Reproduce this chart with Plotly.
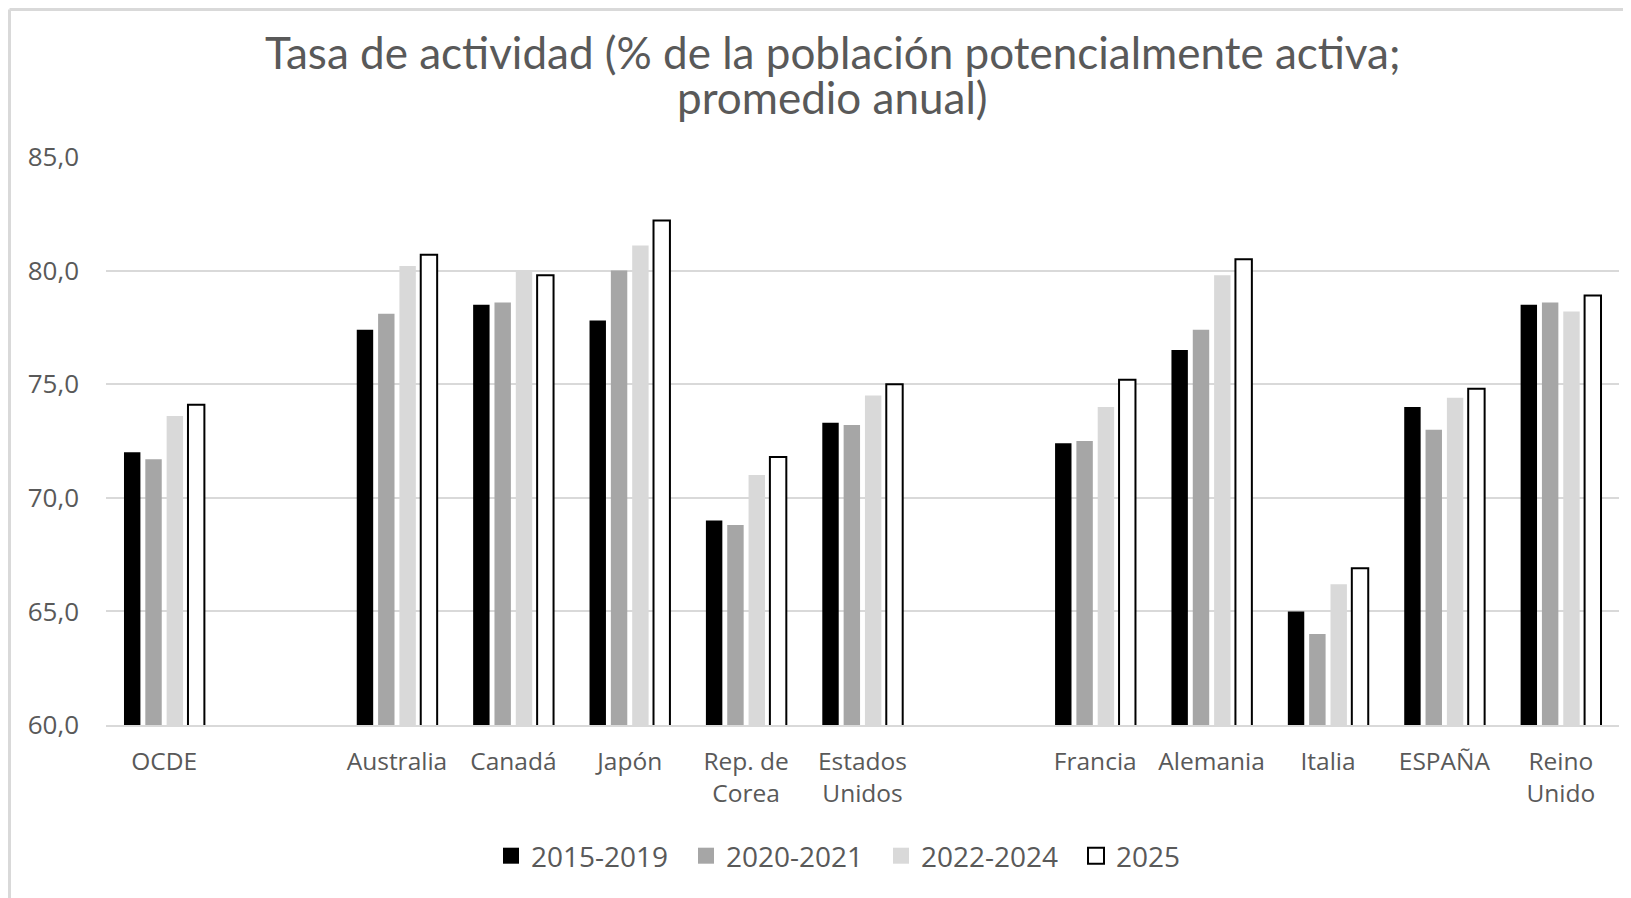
import plotly.graph_objects as go

categories = ["OCDE", " ", "Australia", "Canadá", "Japón", "Rep. de<br>Corea", "Estados<br>Unidos",
              "  ", "Francia", "Alemania", "Italia", "ESPAÑA", "Reino<br>Unido"]

s_2015_2019 = [72.0, None, 77.4, 78.5, 77.8, 69.0, 73.3, None, 72.4, 76.5, 65.0, 74.0, 78.5]
s_2020_2021 = [71.7, None, 78.1, 78.6, 80.0, 68.8, 73.2, None, 72.5, 77.4, 64.0, 73.0, 78.6]
s_2022_2024 = [73.6, None, 80.2, 80.0, 81.1, 71.0, 74.5, None, 74.0, 79.8, 66.2, 74.4, 78.2]
s_2025 = [74.1, None, 80.7, 79.8, 82.2, 71.8, 75.0, None, 75.2, 80.5, 66.9, 74.8, 78.9]

series_names = ["2015-2019", "2020-2021", "2022-2024", "2025"]
series_values = [s_2015_2019, s_2020_2021, s_2022_2024, s_2025]
fills = ["#000000", "#a6a6a6", "#d9d9d9", "#ffffff"]
lines = [0, 0, 0, 2]

title_line1 = "Tasa de actividad (% de la población potencialmente activa;"
title_line2 = "promedio anual)"

font_family = "Open Sans"
grey = "#595959"

fig = go.Figure()
for name, vals, fc, lw in zip(series_names, series_values, fills, lines):
    fig.add_trace(go.Bar(
        x=categories, y=vals, name=name, showlegend=False, legendgroup=name,
        marker=dict(color=fc, line=dict(color="#000000", width=lw)),
    ))
# legend swatches
for name, fc, lw in zip(series_names, fills, lines):
    fig.add_trace(go.Scatter(
        x=[None], y=[None], mode="markers", name=name, legendgroup=name,
        marker=dict(symbol="square", size=17, color=fc,
                    line=dict(color="#000000", width=lw)),
    ))

# plot area in figure px: x 98..1611, y 149..717
PX0, PX1, PY0, PY1 = 98, 1611, 149, 717
W, H = PX1 - PX0, PY1 - PY0


def px(x):
    return (x - PX0) / W


def py(y):
    return (PY1 - y) / H


fig.update_layout(
    width=1623, height=890,
    barmode="group", bargap=0.267, bargroupgap=0.23,
    plot_bgcolor="white", paper_bgcolor="white",
    separators=", ",
    margin=dict(l=PX0, r=1623 - PX1, t=PY0, b=890 - PY1, autoexpand=False),
    font=dict(family=font_family, color=grey, size=24),
    legend=dict(
        orientation="h", x=px(873), xanchor="center", y=py(848), yanchor="middle",
        font=dict(family=font_family, size=28, color=grey),
        traceorder="normal", itemwidth=30,
        entrywidth=150, entrywidthmode="pixels",
    ),
    xaxis=dict(
        type="category", categoryorder="array", categoryarray=categories,
        showgrid=False, showline=True, linecolor="#d9d9d9", linewidth=2,
        ticks="", ticklabelstandoff=14,
        tickfont=dict(family=font_family, size=24.5, color=grey),
    ),
    yaxis=dict(
        range=[60, 85], dtick=5, tick0=60, tickformat=".1f",
        showgrid=True, gridcolor="#d9d9d9", gridwidth=2,
        zeroline=False, showline=False, ticks="",
        ticklabelstandoff=26,
        tickfont=dict(family=font_family, size=26, color=grey),
    ),
    annotations=[
        dict(text=title_line1, xref="paper", yref="paper", x=px(824), y=py(43.5),
             xanchor="center", yanchor="middle", showarrow=False,
             height=50, valign="middle",
             font=dict(family="Lato", size=44, color=grey)),
        dict(text=title_line2, xref="paper", yref="paper", x=px(824), y=py(89.3),
             xanchor="center", yanchor="middle", showarrow=False,
             height=50, valign="middle",
             font=dict(family="Lato", size=44, color=grey)),
    ],
    shapes=[
        dict(type="line", xref="paper", yref="paper",
             x0=px(1.5), x1=1.2, y0=py(1.5), y1=py(1.5),
             line=dict(color="#d9d9d9", width=3), layer="below"),
        dict(type="line", xref="paper", yref="paper",
             x0=px(1.5), x1=px(1.5), y0=py(1.5), y1=-0.5,
             line=dict(color="#d9d9d9", width=3), layer="below"),
    ],
)

fig.write_html("out.html")
